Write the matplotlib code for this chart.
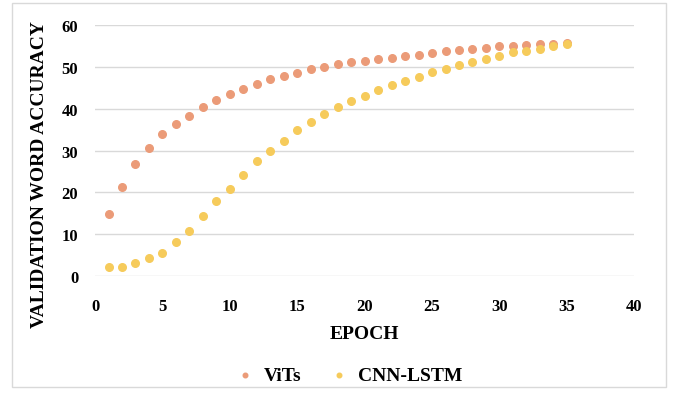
import matplotlib.pyplot as plt
from matplotlib.patches import Rectangle

epochs = list(range(1, 36))
vits = [14.8, 21.4, 26.8, 30.5, 34.0, 36.3, 38.3, 40.3, 42.1, 43.5,
        44.7, 45.9, 47.0, 47.8, 48.6, 49.4, 49.9, 50.6, 51.1, 51.5,
        51.9, 52.2, 52.6, 52.9, 53.3, 53.7, 54.1, 54.3, 54.5, 54.9,
        55.1, 55.3, 55.4, 55.6, 55.7]
cnn_lstm = [2.1, 2.1, 3.1, 4.2, 5.5, 8.2, 10.7, 14.3, 17.9, 20.8,
            24.2, 27.4, 30.0, 32.4, 34.8, 36.8, 38.8, 40.4, 41.9, 43.1,
            44.6, 45.7, 46.7, 47.5, 48.7, 49.5, 50.5, 51.3, 51.9, 52.7,
            53.5, 53.9, 54.3, 55.1, 55.5]

plt.rcParams['font.family'] = ['Liberation Serif', 'DejaVu Serif']
plt.rcParams['font.weight'] = 'bold'

fig = plt.figure(figsize=(6.74, 4.02), dpi=100)
fig.patches.append(Rectangle((0.018, 0.035), 0.97, 0.955, transform=fig.transFigure,
                             fill=False, edgecolor='#d9d9d9', linewidth=1))
ax = fig.add_axes([0.141, 0.311, 0.8, 0.624])

ax.scatter(epochs, vits, s=30, color='#EB9B78', label='ViTs', zorder=3)
ax.scatter(epochs, cnn_lstm, s=30, color='#F6CB5B', label='CNN-LSTM', zorder=3)

ax.set_xlim(0, 40)
ax.set_ylim(0, 60)
ax.set_xticks(range(0, 41, 5))
ax.set_yticks(range(0, 61, 10))
ax.grid(axis='y', color='#d9d9d9', linewidth=1)
ax.set_axisbelow(True)
for s in ax.spines.values():
    s.set_visible(False)
ax.tick_params(axis='y', length=0, labelsize=12, pad=12)
ax.tick_params(axis='x', length=0, labelsize=12, pad=16)
for lbl in ax.get_xticklabels() + ax.get_yticklabels():
    lbl.set_fontweight('bold')

ax.set_xlabel('EPOCH', fontsize=14, fontweight='bold', labelpad=8)
ax.set_ylabel('VALIDATION WORD ACCURACY', fontsize=14, fontweight='bold')
ax.yaxis.set_label_coords(-0.087, 0.41)

fig.legend(loc='center', bbox_to_anchor=(0.51, 0.063), ncol=2, frameon=False,
           fontsize=14, handletextpad=0.0, columnspacing=0.9, markerscale=0.6)

plt.savefig('out.png', dpi=100)
